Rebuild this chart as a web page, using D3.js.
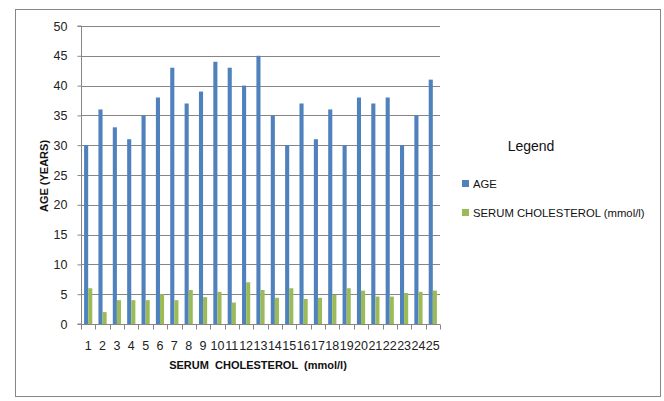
<!DOCTYPE html>
<html>
<head>
<meta charset="utf-8">
<script src="https://cdn.jsdelivr.net/npm/d3@7"></script>
<style>
  html, body { margin: 0; padding: 0; background: #fff; }
  svg { display: block; font-family: "Liberation Sans", Arial, sans-serif; }
</style>
</head>
<body>
<svg id="chart" width="664" height="401"></svg>
<script>
// Patient index on the x axis
const categories = d3.range(1, 26).map(String);
// Age in years
const ageValues = [30, 36, 33, 31, 35, 38, 43, 37, 39, 44, 43, 40, 45, 35, 30, 37, 31, 36, 30, 38, 37, 38, 30, 35, 41];
// Serum cholesterol in mmol/l
const cholesterolValues = [6, 2, 4, 4, 4, 5, 4, 5.7, 4.5, 5.4, 3.6, 7, 5.7, 4.4, 6, 4.2, 4.4, 4.9, 6, 5.6, 4.6, 4.6, 5.2, 5.4, 5.6];
const yTicks = [0, 5, 10, 15, 20, 25, 30, 35, 40, 45, 50];
const seriesNames = ["AGE", "SERUM CHOLESTEROL (mmol/l)"];
const seriesColors = ["#4F81BD", "#9BBB59"];

const svg = d3.select("#chart");

// chart frame
svg.append("rect")
  .attr("x", 15.5).attr("y", 9.5).attr("width", 645).attr("height", 387)
  .attr("fill", "#fff").attr("stroke", "#868686").attr("stroke-width", 1);

const plot = { left: 81, right: 440, top: 26, bottom: 324 };

const x = d3.scaleBand().domain(categories).range([plot.left, plot.right]).paddingInner(0).paddingOuter(0);
const y = d3.scaleLinear().domain([0, 50]).range([plot.bottom, plot.top]);

// horizontal gridlines
svg.append("g").selectAll("line").data(yTicks.filter(d => d > 0)).join("line")
  .attr("x1", plot.left).attr("x2", plot.right)
  .attr("y1", d => Math.round(y(d)) + 0.5).attr("y2", d => Math.round(y(d)) + 0.5)
  .attr("stroke", "#868686").attr("stroke-width", 1);

// bars: two per category with a 150% gap
const bw = x.bandwidth() / 3.5;
const gap = bw * 0.75;
const seriesData = [ageValues, cholesterolValues];
seriesData.forEach((vals, si) => {
  svg.append("g").selectAll("rect").data(vals).join("rect")
    .attr("x", (d, i) => x(categories[i]) + gap + si * bw)
    .attr("width", bw)
    .attr("y", d => y(d))
    .attr("height", d => y(0) - y(d))
    .attr("fill", seriesColors[si]);
});

// y axis
const yAxis = d3.axisLeft(y).tickValues(yTicks).tickSize(4).tickPadding(10);
const gy = svg.append("g").attr("transform", `translate(${plot.left + 0.5},0)`).call(yAxis);
gy.select(".domain").attr("stroke", "#868686").attr("d", `M-4,${plot.top}H0V${plot.bottom}H-4`);
gy.selectAll(".tick line").attr("stroke", "#868686");
gy.selectAll(".tick text").attr("font-size", 12.5).attr("fill", "#222").attr("font-family", "Liberation Sans, Arial, sans-serif");

// x axis with tick marks on category boundaries
const gx = svg.append("g").attr("transform", `translate(0,${plot.bottom + 0.5})`);
gx.append("line").attr("x1", plot.left).attr("x2", plot.right).attr("stroke", "#868686");
gx.selectAll("line.tk").data(d3.range(categories.length + 1)).join("line")
  .attr("class", "tk")
  .attr("x1", i => Math.round(plot.left + i * x.bandwidth()) + 0.5)
  .attr("x2", i => Math.round(plot.left + i * x.bandwidth()) + 0.5)
  .attr("y1", 0).attr("y2", 5).attr("stroke", "#868686");
gx.selectAll("text").data(categories).join("text")
  .attr("x", d => x(d) + x.bandwidth() / 2)
  .attr("y", 25)
  .attr("text-anchor", "middle")
  .attr("font-size", 12.5).attr("fill", "#222")
  .text(d => d);

// axis titles
svg.append("text")
  .attr("x", 258).attr("y", 369)
  .attr("text-anchor", "middle").attr("font-size", 11).attr("font-weight", "bold").attr("fill", "#111")
  .attr("xml:space", "preserve")
  .text("SERUM  CHOLESTEROL  (mmol/l)");

svg.append("text")
  .attr("transform", "translate(48,176) rotate(-90)")
  .attr("text-anchor", "middle").attr("font-size", 11).attr("font-weight", "bold").attr("fill", "#111")
  .text("AGE (YEARS)");

// legend
svg.append("text")
  .attr("x", 531).attr("y", 151)
  .attr("text-anchor", "middle").attr("font-size", 14).attr("fill", "#111")
  .text("Legend");

const legend = svg.append("g").selectAll("g").data(seriesNames).join("g")
  .attr("transform", (d, i) => `translate(462,${180 + i * 29})`);
legend.append("rect").attr("width", 7).attr("height", 7).attr("fill", (d, i) => seriesColors[i]);
legend.append("text").attr("x", 11).attr("y", 8).attr("font-size", 11.3).attr("fill", "#111").text(d => d);
</script>
</body>
</html>
